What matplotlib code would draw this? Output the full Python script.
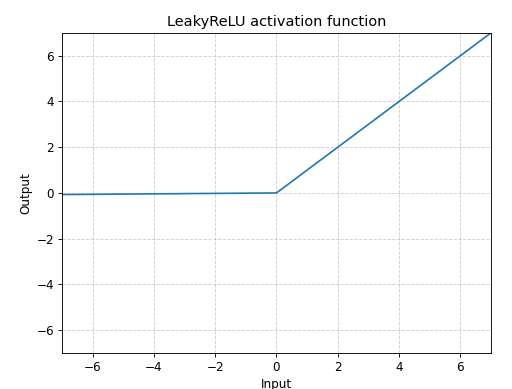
import matplotlib
matplotlib.use("Agg")
import matplotlib.pyplot as plt

# LeakyReLU sampled at its break points (slope 0.01 for negative input)
inputs = [-7, 0, 7]
outputs = [-0.07, 0, 7]

plt.rcParams["font.size"] = 10.8

fig = plt.figure(figsize=(6.4, 4.8625), dpi=80)
ax = fig.add_axes([0.121, 0.0925, 0.838, 0.823])

ax.plot(inputs, outputs, color="#1f77b4", linewidth=1.5)

ax.set_xlim(-7, 7)
ax.set_ylim(-7, 7)
ax.set_xticks([-6, -4, -2, 0, 2, 4, 6])
ax.set_yticks([-6, -4, -2, 0, 2, 4, 6])
ax.grid(True, linestyle="--", color="#b0b0b0", alpha=0.6)

ax.set_title("LeakyReLU activation function", fontsize=13)
ax.set_xlabel("Input")
ax.set_ylabel("Output")

fig.savefig("out.png", dpi=80)
